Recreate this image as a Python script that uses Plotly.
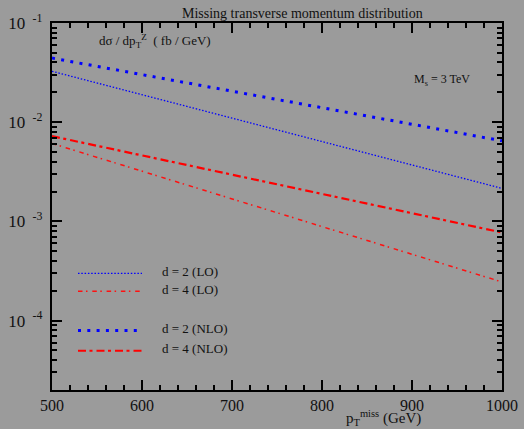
import plotly.graph_objects as go

# ---- data ----
pt = [500, 600, 700, 800, 900, 1000]
d2_lo = [0.0326, 0.0189, 0.0110, 0.00638, 0.00371, 0.00215]
d4_lo = [0.0061, 0.00321, 0.00169, 0.000887, 0.000466, 0.000245]
d2_nlo = [0.0443, 0.0301, 0.0205, 0.01397, 0.00952, 0.00649]
d4_nlo = [0.00723, 0.00462, 0.00295, 0.00189, 0.00121, 0.000773]

y_tickvals = [1e-4, 1e-3, 1e-2, 1e-1]
y_ticktext = ["10 <sup> -4</sup>&nbsp;", "10 <sup> -3</sup>&nbsp;",
              "10 <sup> -2</sup>&nbsp;", "10 <sup> -1</sup>&nbsp;"]

names = ["d = 2 (LO)", "d = 4 (LO)", "d = 2 (NLO)", "d = 4 (NLO)"]

# ---- styles ----
W, H = 524, 429
L, R, T, B = 52, 22, 22.5, 39
BG = "#9b9b9b"
FONT = "Liberation Serif"
TXT = "#111111"

styles = [
    dict(color="#0000ff", width=1.3, dash="1.5px,1.8px"),
    dict(color="#ff1010", width=1.5, dash="4.5px,3.5px,1.5px,4.8px"),
    dict(color="#0000ff", width=3.0, dash="3px,6.3px"),
    dict(color="#ff0000", width=2.2, dash="8px,3.5px,3px,4px"),
]
series = [d2_lo, d4_lo, d2_nlo, d4_nlo]

fig = go.Figure()
for ys, st, nm in zip(series, styles, names):
    fig.add_trace(go.Scatter(x=pt, y=ys, mode="lines", name=nm, line=st))

pw, ph = W - L - R, H - T - B


def px(x):
    return (x - L) / pw


def py(y):
    return (H - B - y) / ph


# legend key: sample lines on a hidden overlay axis (0..1 = plot area), text as annotations
leg_y = [273.3, 291, 330.3, 350.7]
annotations = []
for st, nm, yy in zip(styles, names, leg_y):
    fig.add_trace(go.Scatter(x=[px(78), px(142)], y=[py(yy), py(yy)], mode="lines",
                             line=dict(st), xaxis="x2", yaxis="y2", hoverinfo="skip"))
    annotations.append(dict(text=nm, xref="paper", yref="paper",
                            x=px(160), y=py(yy - 2), xanchor="left", yanchor="middle",
                            showarrow=False, font=dict(family=FONT, size=13, color=TXT)))

annotations += [
    dict(text="Missing transverse momentum distribution", xref="paper", yref="paper",
         x=px(302), y=py(13), xanchor="center", yanchor="middle", showarrow=False,
         font=dict(family=FONT, size=14, color=TXT)),
    dict(text="dσ / dp<sub>T</sub><sup>Z</sup>  ( fb / GeV)", xref="paper", yref="paper",
         x=px(97), y=py(41), xanchor="left", yanchor="middle", showarrow=False,
         font=dict(family=FONT, size=13, color=TXT)),
    dict(text="M<sub>s</sub> = 3 TeV", xref="paper", yref="paper",
         x=px(412), y=py(80), xanchor="left", yanchor="middle", showarrow=False,
         font=dict(family=FONT, size=12, color=TXT)),
    dict(text="p<sub>T</sub><sup>miss</sup> (GeV)", xref="paper", yref="paper",
         x=px(344), y=py(430), xanchor="left", yanchor="bottom", showarrow=False,
         font=dict(family=FONT, size=15, color=TXT)),
]

fig.update_layout(
    width=W, height=H,
    margin=dict(l=L, r=R, t=T, b=B, autoexpand=False),
    paper_bgcolor=BG, plot_bgcolor=BG,
    showlegend=False,
    font=dict(family=FONT, color=TXT),
    annotations=annotations,
    xaxis2=dict(overlaying="x", range=[0, 1], visible=False, fixedrange=True),
    yaxis2=dict(overlaying="y", range=[0, 1], visible=False, fixedrange=True),
)
fig.update_layout(
    xaxis=dict(automargin=False,
               showline=True, linecolor="black", linewidth=2, mirror="ticks",
               ticks="inside", tickcolor="black", tickwidth=1.5, ticklen=10,
               showgrid=False, zeroline=False,
               tickfont=dict(family=FONT, size=16, color=TXT),
               range=[500, 1000], tick0=500, dtick=100,
               minor=dict(dtick=20, ticks="inside", ticklen=5, tickcolor="black")),
    yaxis=dict(automargin=False,
               showline=True, linecolor="black", linewidth=2, mirror="ticks",
               ticks="inside", tickcolor="black", tickwidth=1.5, ticklen=10,
               showgrid=False, zeroline=False,
               tickfont=dict(family=FONT, size=17, color=TXT),
               type="log", range=[-4.70, -1.0], tickmode="array",
               tickvals=y_tickvals, ticktext=y_ticktext,
               minor=dict(dtick="D1", ticks="inside", ticklen=5, tickcolor="black")),
)

fig.write_html("out.html")
